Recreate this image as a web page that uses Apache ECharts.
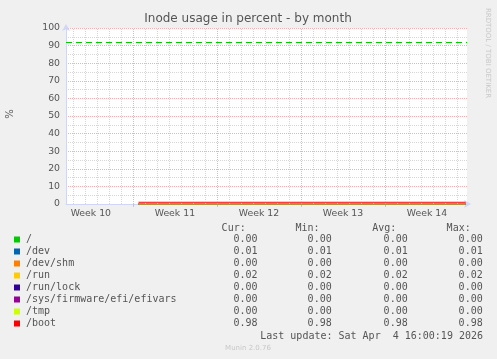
<!DOCTYPE html>
<html><head><meta charset="utf-8">
<script src="https://cdn.jsdelivr.net/npm/echarts@6/dist/echarts.min.js"></script>
<style>html,body{margin:0;padding:0;background:#f0f0f0}#c{width:497px;height:359px}</style>
</head><body><div id="c"></div>
<script>
// ---- data ----
const seriesNames = ['/', '/dev', '/dev/shm', '/run', '/run/lock', '/sys/firmware/efi/efivars', '/tmp', '/boot'];
const seriesColors = ['#00CC00', '#0066B3', '#FF8000', '#FFCC00', '#330099', '#990099', '#CCFF00', '#FF0000'];
const curValues = [0.00, 0.01, 0.00, 0.02, 0.00, 0.00, 0.00, 0.98];
const minValues = [0.00, 0.01, 0.00, 0.02, 0.00, 0.00, 0.00, 0.98];
const avgValues = [0.00, 0.01, 0.00, 0.02, 0.00, 0.00, 0.00, 0.98];
const maxValues = [0.00, 0.01, 0.00, 0.02, 0.00, 0.00, 0.00, 0.98];
// x in days since the start of Week 10
const sampleDays = [7.47, 34.72];
const warningLevel = 92;
const weekLabels = ['Week 10', 'Week 11', 'Week 12', 'Week 13', 'Week 14'];
const weekLabelDays = [3.5, 10.5, 17.5, 24.5, 31.5];
const weekStartDays = [7, 14, 21, 28];
const dayLineDays = [2, 3, 4, 5, 6, 8, 9, 10, 11, 12, 13, 15, 16, 17, 18, 19, 20, 22, 23, 24, 25, 26, 27, 29, 30, 31, 32, 33, 34];
const minorYLines = [5, 15, 25, 35, 45, 55, 65, 75, 85, 95];
const xRange = [1.43, 34.83];
const yRange = [0, 100];
const lastUpdate = 'Last update: Sat Apr  4 16:00:19 2026';

// ---- chart ----
const chart = echarts.init(document.getElementById('c'), null, {renderer: 'canvas'});
const FONT = '"DejaVu Sans", sans-serif';
const MONO = '"DejaVu Sans Mono", monospace';
const txtColor = '#555';
const minorColor = '#d6d6d6';
const majorColor = '#eeb2b2';

function gridLines(data, color) {
  return {
    type: 'line', data: [], silent: true, z: 1,
    markLine: {
      silent: true, symbol: 'none', label: {show: false}, animation: false,
      lineStyle: {color, width: 1, type: [1, 1]},
      data
    }
  };
}
const gridSeries = [
  gridLines(dayLineDays.map(d => ({xAxis: d})), minorColor),
  gridLines(minorYLines.map(v => ({yAxis: v})), minorColor),
  gridLines(weekStartDays.map(d => ({xAxis: d})), majorColor)
];

const dataSeries = seriesNames.map((name, i) => {
  const s = {
    name, type: 'line', showSymbol: false, symbol: 'none', animation: false, z: 3, clip: false,
    lineStyle: {color: seriesColors[i], width: 1},
    itemStyle: {color: seriesColors[i]},
    data: sampleDays.map(d => [d, avgValues[i]])
  };
  if (i === 0) {
    s.markLine = {
      silent: true, symbol: 'none', label: {show: false}, animation: false,
      lineStyle: {color: seriesColors[0], width: 1, type: [6, 4]},
      data: [{yAxis: warningLevel}]
    };
  }
  return s;
});

const graphics = [];
function txt(x, y, text, font, fill, align, rotation) {
  const g = {type: 'text', x, y, style: {text, font, fill, align, verticalAlign: 'middle', textAlign: align, textVerticalAlign: 'middle'}};
  if (rotation) g.rotation = rotation;
  return g;
}
graphics.push(txt(248, 19, 'Inode usage in percent - by month', '12px ' + FONT, txtColor, 'center'));
graphics.push(txt(10, 114, '%', '10px ' + FONT, txtColor, 'center', Math.PI / 2));
graphics.push(txt(488, 53, 'RRDTOOL / TOBI OETIKER', '7px ' + FONT, '#c8c8c8', 'center', -Math.PI / 2));
const colRight = [257.5, 331.7, 407.7, 482.7];
const headRight = [245.7, 319.5, 396.3, 470.7];
const heads = ['Cur:', 'Min:', 'Avg:', 'Max:'];
const cols = [curValues, minValues, avgValues, maxValues];
heads.forEach((h, j) => graphics.push(txt(headRight[j], 228, h, '10px ' + MONO, txtColor, 'right')));
seriesNames.forEach((name, i) => {
  const y = 239.5 + 12 * i;
  graphics.push({type: 'rect', shape: {x: 14, y: y - 3, width: 6, height: 6}, style: {fill: seriesColors[i]}});
  graphics.push(txt(26, y, name, '10px ' + MONO, txtColor, 'left'));
  cols.forEach((arr, j) => graphics.push(txt(colRight[j], y, arr[i].toFixed(2), '10px ' + MONO, txtColor, 'right')));
});
graphics.push(txt(483, 336, lastUpdate, '10px ' + MONO, txtColor, 'right'));
graphics.push(txt(248, 348.5, 'Munin 2.0.76', '7px ' + FONT, '#c8c8c8', 'center'));

chart.setOption({
  backgroundColor: '#f0f0f0',
  animation: false,
  grid: {left: 66, top: 28, width: 401, height: 176, backgroundColor: '#ffffff', show: true, borderWidth: 0},
  xAxis: {
    type: 'value', min: xRange[0], max: xRange[1],
    axisLine: {show: true, onZero: false, lineStyle: {color: '#CFD6F8', width: 1}, symbol: ['none', 'arrow'], symbolSize: [6, 7], symbolOffset: [0, 4]},
    axisTick: {show: true, customValues: weekStartDays, length: 3, lineStyle: {color: majorColor}},
    axisLabel: {show: true, customValues: weekLabelDays, formatter: v => weekLabels[weekLabelDays.indexOf(v)] || '', color: txtColor, fontFamily: FONT, fontSize: 9.33, margin: 5},
    splitLine: {show: false}
  },
  yAxis: {
    type: 'value', min: yRange[0], max: yRange[1], interval: 10,
    axisLine: {show: true, lineStyle: {color: '#CFD6F8', width: 1}, symbol: ['none', 'arrow'], symbolSize: [6, 7], symbolOffset: [0, 4]},
    axisTick: {show: false},
    axisLabel: {color: txtColor, fontFamily: FONT, fontSize: 9.33, margin: 6},
    splitLine: {show: true, lineStyle: {color: majorColor, width: 1, type: [1, 1]}}
  },
  series: gridSeries.concat(dataSeries),
  graphic: graphics
});
</script>
</body></html>
